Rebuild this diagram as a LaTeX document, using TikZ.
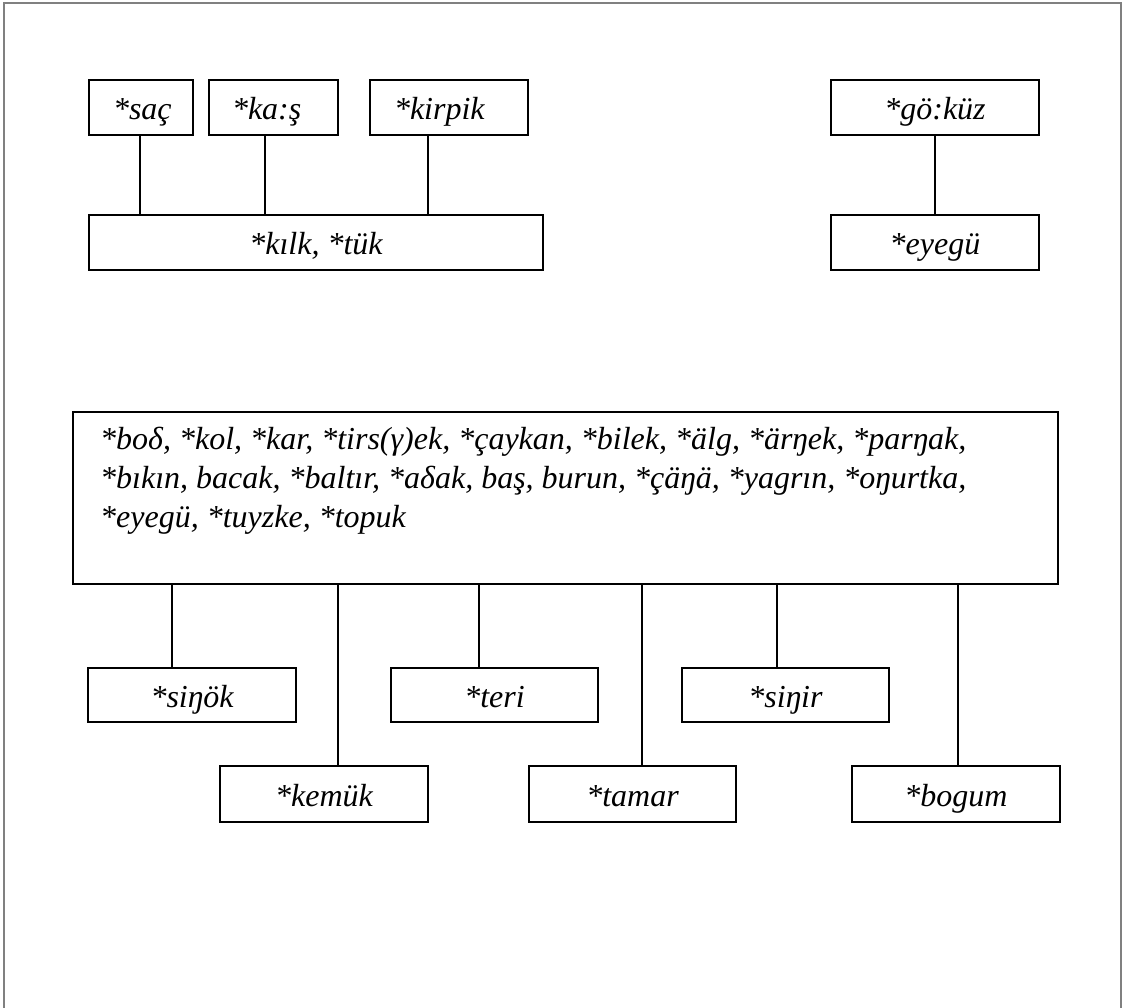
\documentclass[tikz,border=0pt]{standalone}
\usepackage{fontspec}
\setmainfont{Liberation Serif}
\begin{document}
\begin{tikzpicture}[x=1pt,y=-1pt,
  every node/.style={font=\itshape\fontsize{32}{39}\selectfont},
  box/.style={draw=black, line width=2pt, anchor=north west, inner sep=0pt,
    minimum height=55pt, text height=30pt, text depth=5pt},
  lbox/.style={box, align=left},
  link/.style={draw=black, line width=2pt},
  frame/.style={draw=black!50, line width=2.5pt}]
\useasboundingbox (0,0) rectangle (1124,1008);
% page frame, open at the bottom
\draw[frame] (4,1012) -- (4,3) -- (1121,3) -- (1121,1012);

% hair group
\node[lbox, minimum width=104pt, text width=104pt] (sac) at (88,79) {\hspace*{24pt}*saç};
\node[lbox, minimum width=129pt, text width=129pt] (kas) at (208,79) {\hspace*{23pt}*ka:ş};
\node[lbox, minimum width=158pt, text width=158pt] (kirpik) at (369,79) {\hspace*{24pt}*kirpik};
\node[box, minimum width=454pt] (kilk) at (88,214) {*kılk, *tük};

% eye group
\node[box, minimum width=208pt] (gokuz) at (830,79) {*gö:küz};
\node[box, minimum width=208pt] (eyegu) at (830,214) {*eyegü};

% body parts group
\node[box, minimum width=985pt, minimum height=172pt] (big) at (72,411) {};
\node[anchor=north west, align=left, inner sep=0pt] (bigtext) at ([shift={(28pt,-16pt)}]big.north west)
  {*boδ, *kol, *kar, *tirs(γ)ek, *çaykan, *bilek, *älg, *ärŋek, *parŋak,\\
   *bıkın, bacak, *baltır, *aδak, baş, burun, *çäŋä, *yagrın, *oŋurtka,\\
   *eyegü, *tuyzke, *topuk};

\node[box, minimum width=208pt, minimum height=54pt] (sinok) at (87,667) {*siŋök};
\node[box, minimum width=207pt, minimum height=54pt] (teri) at (390,667) {*teri};
\node[box, minimum width=207pt, minimum height=54pt] (sinir) at (681,667) {*siŋir};
\node[box, minimum width=208pt, minimum height=56pt] (kemuk) at (219,765) {*kemük};
\node[box, minimum width=207pt, minimum height=56pt] (tamar) at (528,765) {*tamar};
\node[box, minimum width=208pt, minimum height=56pt] (bogum) at (851,765) {*bogum};

% connectors of the upper groups
\coordinate (t1) at ([xshift=-1pt]sac.south);
\coordinate (t2) at ([xshift=-8.5pt]kas.south);
\coordinate (t3) at ([xshift=-21pt]kirpik.south);
\coordinate (t4) at (gokuz.south);
\draw[link] (t1) -- (t1 |- kilk.north);
\draw[link] (t2) -- (t2 |- kilk.north);
\draw[link] (t3) -- (t3 |- kilk.north);
\draw[link] (t4) -- (t4 |- eyegu.north);

% connectors below the body parts box
\coordinate (b1) at ([xshift=-20pt]sinok.north);
\coordinate (b2) at ([xshift=14pt]kemuk.north);
\coordinate (b3) at ([xshift=-15.5pt]teri.north);
\coordinate (b4) at ([xshift=9.5pt]tamar.north);
\coordinate (b5) at ([xshift=-8.5pt]sinir.north);
\coordinate (b6) at ([xshift=2pt]bogum.north);
\foreach \c in {b1,b2,b3,b4,b5,b6}
  \draw[link] (\c |- big.south) -- (\c);
\end{tikzpicture}
\end{document}
